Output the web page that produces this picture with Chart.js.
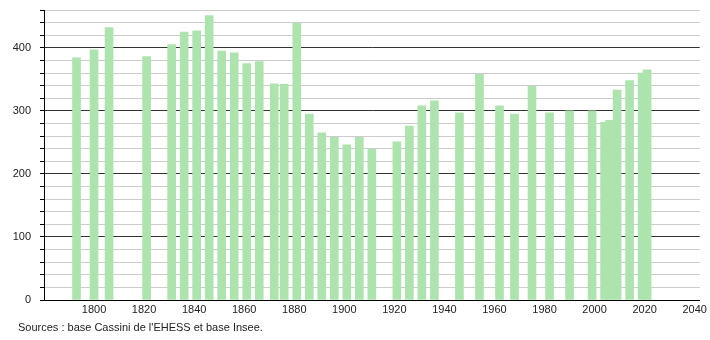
<!DOCTYPE html>
<html lang="fr">
<head>
    <meta charset="UTF-8">
    <title>Population</title>
    <style>
        body {
            margin: 0;
            background-color: #ffffff;
        }
        .chart-box {
            width: 710px;
            height: 340px;
        }
    </style>
</head>
<body>
    <div class="chart-box">
        <canvas id="popChart"></canvas>
    </div>

    <script src="https://cdn.jsdelivr.net/npm/chart.js"></script>
    <script>
        // census years and population
        const years = [1793, 1800, 1806, 1821, 1831, 1836, 1841, 1846, 1851, 1856,
            1861, 1866, 1872, 1876, 1881, 1886, 1891, 1896, 1901, 1906,
            1911, 1921, 1926, 1931, 1936, 1946, 1954, 1962, 1968, 1975,
            1982, 1990, 1999, 2004, 2006, 2009, 2014, 2019, 2021];
        const population = [384, 397, 432, 386, 405, 425, 427, 451, 395, 392,
            375, 378, 343, 342, 439, 295, 265, 258, 246, 258,
            239, 251, 276, 308, 316, 297, 358, 308, 295, 339,
            297, 300, 300, 282, 285, 333, 348, 360, 365];
        const xTicks = [1800, 1820, 1840, 1860, 1880, 1900, 1920, 1940, 1960, 1980, 2000, 2020, 2040];
        const sourceText = "Sources : base Cassini de l'EHESS et base Insee.";

        const font = { family: '"Liberation Sans", Arial, sans-serif', size: 11 };

        // draws the sources line under the axis
        const sourcePlugin = {
            id: 'sourceNote',
            afterDraw(chart) {
                const ctx = chart.ctx;
                ctx.save();
                ctx.font = '11px "Liberation Sans", Arial, sans-serif';
                ctx.fillStyle = '#222';
                ctx.textBaseline = 'middle';
                ctx.fillText(sourceText, 18, 328);
                ctx.restore();
            }
        };

        new Chart(document.getElementById('popChart'), {
            type: 'bar',
            data: {
                datasets: [{
                    label: 'Population',
                    data: years.map((y, i) => ({ x: y, y: population[i] })),
                    backgroundColor: '#ade4ad',
                    barThickness: 8
                }]
            },
            options: {
                responsive: true,
                maintainAspectRatio: false,
                animation: false,
                layout: { padding: { top: 10, right: 10, left: 0, bottom: 0 } },
                plugins: {
                    legend: { display: false },
                    tooltip: { enabled: false }
                },
                scales: {
                    x: {
                        type: 'linear',
                        offset: false,
                        min: 1780,
                        max: 2042,
                        afterBuildTicks(scale) {
                            scale.ticks = xTicks.map(v => ({ value: v }));
                        },
                        afterFit(scale) { scale.height = 40; },
                        grid: { display: false, drawTicks: false },
                        border: { display: true, color: '#000' },
                        ticks: {
                            color: '#222',
                            font: font,
                            padding: 3,
                            maxRotation: 0,
                            autoSkip: false,
                            callback: v => String(v)
                        }
                    },
                    y: {
                        min: 0,
                        max: 460,
                        afterFit(scale) {
                            scale.width = 44;
                            scale.paddingTop = 0;
                            scale.paddingBottom = 0;
                        },
                        border: { display: true, color: '#000' },
                        grid: {
                            color: c => (c.tick && c.tick.value % 100 === 0) ? '#333' : '#cccccc',
                            tickColor: '#000',
                            tickLength: 4
                        },
                        ticks: {
                            stepSize: 20,
                            color: '#222',
                            font: font,
                            padding: 9,
                            autoSkip: false,
                            callback: v => (v % 100 === 0 && v <= 400) ? v : ''
                        }
                    }
                }
            },
            plugins: [sourcePlugin]
        });
    </script>
</body>
</html>
